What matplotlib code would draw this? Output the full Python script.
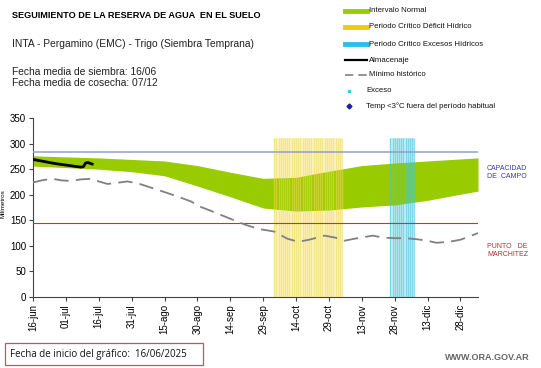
import numpy as np
import matplotlib
matplotlib.use("Agg")
import matplotlib.pyplot as plt
from matplotlib.lines import Line2D
from matplotlib.patches import Rectangle

plt.rcParams['font.family'] = ['Liberation Sans', 'DejaVu Sans']

# x values are days counted from 16-jun
tick_days = [0, 15, 30, 45, 60, 75, 90, 105, 120, 135, 150, 165, 180, 195]
tick_labels = ["16-jun", "01-jul", "16-jul", "31-jul", "15-ago", "30-ago", "14-sep",
               "29-sep", "14-oct", "29-oct", "13-nov", "28-nov", "13-dic", "28-dic"]

# intervalo normal (green band)
band_days = [0, 15, 30, 45, 60, 75, 90, 105, 120, 135, 150, 165, 180, 195, 203]
band_upper = [276, 274, 272, 269, 266, 257, 244, 232, 234, 246, 257, 262, 266, 270, 272]
band_lower = [256, 253, 250, 245, 237, 217, 196, 174, 168, 170, 176, 180, 189, 201, 207]

# almacenaje
storage_days = [0, 5, 10, 15, 19, 22, 23, 24, 25, 27]
storage_mm = [269, 265, 261, 258, 255.5, 254, 255, 262, 263, 260]

# minimo historico
min_days = [0, 5, 9, 13, 17, 22, 26, 30, 34, 38, 43, 48, 53, 58, 65, 72, 76, 82, 90, 97,
            103, 110, 116, 121, 126, 133, 138, 142, 148, 155, 160, 165, 170, 175, 180,
            184, 190, 195, 200, 203]
min_mm = [224, 229, 231, 228, 227, 230, 231, 226, 221, 223, 226, 222, 215, 208, 198, 187,
          177, 167, 153, 141, 133, 128, 114, 108, 112, 120, 116, 110, 115, 120, 116, 115,
          115, 113, 110, 106, 108, 112, 120, 125]

capacidad_campo = 283
punto_marchitez = 145

deficit_period = [110, 141]   # periodo critico deficit hidrico
excess_period = [163, 174]    # periodo critico excesos hidricos
period_top = 310

W, H = 541, 368
fig = plt.figure(figsize=(W / 100, H / 100), dpi=100)
ax = fig.add_axes([33 / W, 1 - 297 / H, (478 - 33) / W, (297 - 118) / H])

def fx(px):
    return px / W

def fy(py):
    return 1 - py / H

# critical periods drawn as striped blocks
for (d0, d1), fill, line in [(deficit_period, '#FCF5C6', '#EFDA55'),
                             (excess_period, '#C8F0F6', '#3CC3D8')]:
    ax.fill_between([d0, d1], 0, period_top, color=fill, lw=0, zorder=1)
    ax.vlines(np.arange(d0, d1 + 1), 0, period_top, color=line, lw=1.0, alpha=0.55, zorder=3)

ax.fill_between(band_days, band_lower, band_upper, color='#99CC00', lw=0, zorder=2)
ax.axhline(capacidad_campo, color='#8EA0D0', lw=1.1, zorder=4)
ax.axhline(punto_marchitez, color='#C0392B', lw=0.8, zorder=4)
ax.plot(min_days, min_mm, color='#808080', lw=1.3, dashes=(8, 4), zorder=4)
ax.plot(storage_days, storage_mm, color='black', lw=2, zorder=5)

ax.set_xlim(0, 203)
ax.set_ylim(0, 350)
ax.set_yticks(range(0, 351, 50))
ax.set_xticks(tick_days)
ax.set_xticklabels(tick_labels, rotation=90)
ax.tick_params(labelsize=7, length=3, color='#444444', pad=2)
for s in ['top', 'right']:
    ax.spines[s].set_visible(False)
for s in ['left', 'bottom']:
    ax.spines[s].set_color('#444444')
    ax.spines[s].set_linewidth(0.8)
ax.set_ylabel("Milímetros", fontsize=4.5)
ax.yaxis.set_label_coords(-27 / 445, 0.52)

# header texts
fig.text(fx(12), fy(15), "SEGUIMIENTO DE LA RESERVA DE AGUA  EN EL SUELO", fontsize=6.6,
         fontweight='bold', va='center')
fig.text(fx(12), fy(44), "INTA - Pergamino (EMC) - Trigo (Siembra Temprana)", fontsize=7.4,
         va='center', color='#222222')
fig.text(fx(12), fy(72), "Fecha media de siembra: 16/06", fontsize=7.4, va='center', color='#222222')
fig.text(fx(12), fy(83), "Fecha media de cosecha: 07/12", fontsize=7.4, va='center', color='#222222')

# legend
leg = [(11, 'patch', '#99CC00', "Intervalo Normal"),
       (27, 'patch', '#F5C518', "Periodo Crítico Déficit Hídrico"),
       (44, 'patch', '#29C0E8', "Periodo Crítico Excesos Hídricos"),
       (60, 'line', 'black', "Almacenaje"),
       (75, 'dash', '#808080', "Mínimo histórico"),
       (91, 'dot', '#33CCEE', "Exceso"),
       (106, 'diamond', '#1F1FA0', "Temp <3°C fuera del período habitual")]
for py, kind, col, label in leg:
    tx = 369
    if kind == 'patch':
        fig.add_artist(Line2D([fx(345), fx(367)], [fy(py), fy(py)], color=col, lw=3.5))
    elif kind == 'line':
        fig.add_artist(Line2D([fx(345), fx(367)], [fy(py), fy(py)], color=col, lw=1.6))
    elif kind == 'dash':
        fig.add_artist(Line2D([fx(345), fx(367)], [fy(py), fy(py)], color=col, lw=1.2,
                              dashes=(5, 3)))
    elif kind == 'dot':
        fig.add_artist(Line2D([fx(349)], [fy(py)], marker='s', ms=2, color=col, lw=0))
        tx = 366
    else:
        fig.add_artist(Line2D([fx(349)], [fy(py)], marker='D', ms=2.5, color=col, lw=0))
        tx = 366
    fig.text(fx(tx), fy(py), label, fontsize=5.6, va='center', color='#111111')

# reference lines labels
fig.text(fx(487), fy(172), "CAPACIDAD\nDE  CAMPO", fontsize=5, color='#3A3AA0',
         va='center', linespacing=1.2)
fig.text(fx(487), fy(251), "PUNTO   DE\nMARCHITEZ", fontsize=5, color='#B03030',
         va='center', linespacing=1.2)

# footer
fig.add_artist(Rectangle((fx(5), fy(365)), fx(203) - fx(5), fy(343) - fy(365),
                         transform=fig.transFigure, fill=False, ec='#8C6F6F', lw=0.9))
fig.text(fx(10), fy(354), "Fecha de inicio del gráfico:  16/06/2025", fontsize=7,
         va='center', color='#111111', family=['Open Sans', 'DejaVu Sans'])
fig.text(fx(530), fy(358), "WWW.ORA.GOV.AR", fontsize=6.5, va='center', ha='right',
         color='#666666', fontweight='bold')

fig.savefig("out.png", dpi=100)
